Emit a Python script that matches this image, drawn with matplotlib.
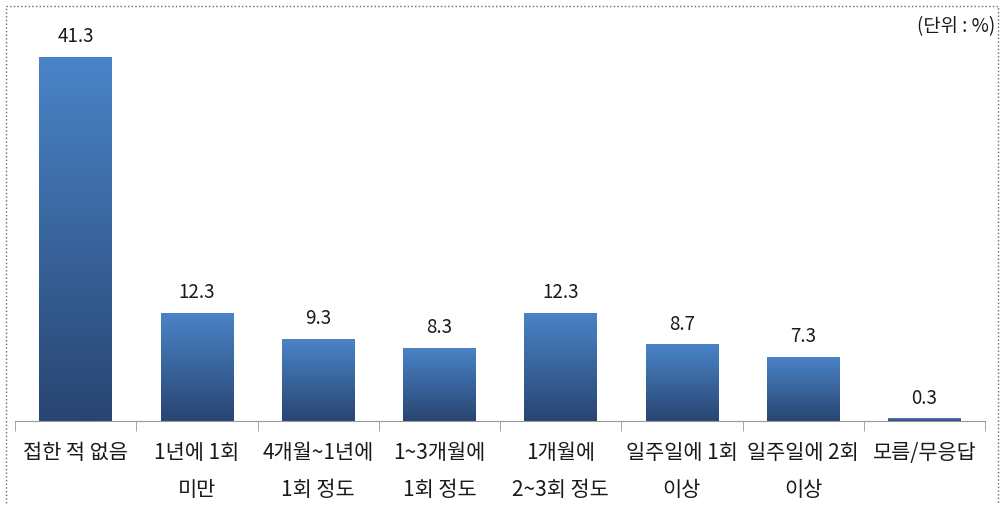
"""
매체 접촉 빈도 막대그래프
"""
import matplotlib
matplotlib.use('Agg')
import matplotlib.pyplot as plt
import numpy as np
from matplotlib.patches import Rectangle
from matplotlib.colors import LinearSegmentedColormap

plt.rcParams['font.family'] = ['Noto Sans CJK KR', 'DejaVu Sans']

# 데이터
categories = ['접한 적 없음', '1년에 1회\n미만', '4개월~1년에\n1회 정도', '1~3개월에\n1회 정도',
              '1개월에\n2~3회 정도', '일주일에 1회\n이상', '일주일에 2회\n이상', '모름/무응답']
values = [41.3, 12.3, 9.3, 8.3, 12.3, 8.7, 7.3, 0.3]

fig = plt.figure(figsize=(10, 5.05), dpi=100)
ax = fig.add_axes([0.015, 84 / 505, 0.97, 1 - 84 / 505 - 10 / 505])

x = np.arange(len(categories))
bars = ax.bar(x, values, width=0.6, color='#3f6eaa', edgecolor='none')

# 막대별 세로 그라데이션
cmap = LinearSegmentedColormap.from_list('bar_grad', ['#284571', '#4a84c8'])
grad = np.linspace(0, 1, 256).reshape(-1, 1)
for bar in bars:
    x0, y0 = bar.get_x(), bar.get_y()
    w, h = bar.get_width(), bar.get_height()
    im = ax.imshow(grad, cmap=cmap, aspect='auto', origin='lower',
                   extent=(x0, x0 + w, y0, y0 + h), zorder=bar.get_zorder() + 0.1)
    im.set_clip_path(bar)

# 값 라벨
for i, v in enumerate(values):
    ax.text(i, v + 1.1, f'{v:.1f}', ha='center', va='bottom', fontsize=13.5, color='#1a1a1a')

ax.set_xlim(-0.5, len(categories) - 0.5)
ax.set_ylim(0, (421 - 10) / (364 / 41.3))

ax.set_xticks(x)
ax.set_xticklabels(categories, fontsize=15, linespacing=1.9, color='#1a1a1a')
ax.tick_params(axis='x', which='major', length=0, pad=15)
ax.set_xticks(np.arange(-0.5, len(categories)), minor=True)
ax.tick_params(axis='x', which='minor', length=7, color='#999999', direction='out')
ax.set_yticks([])

for side in ['left', 'right', 'top']:
    ax.spines[side].set_visible(False)
ax.spines['bottom'].set_color('#999999')

fig.text(0.995, 1 - 27 / 505, '(단위 : %)', ha='right', va='center', fontsize=13.5, color='#1a1a1a')

# 점선 테두리
fig.patches.append(Rectangle((0.006, -0.02), 0.992, 1 - 6 / 505 + 0.02,
                             transform=fig.transFigure, fill=False,
                             linestyle=':', linewidth=1, edgecolor='#666666'))

fig.savefig('out.png', dpi=100, facecolor='white')
